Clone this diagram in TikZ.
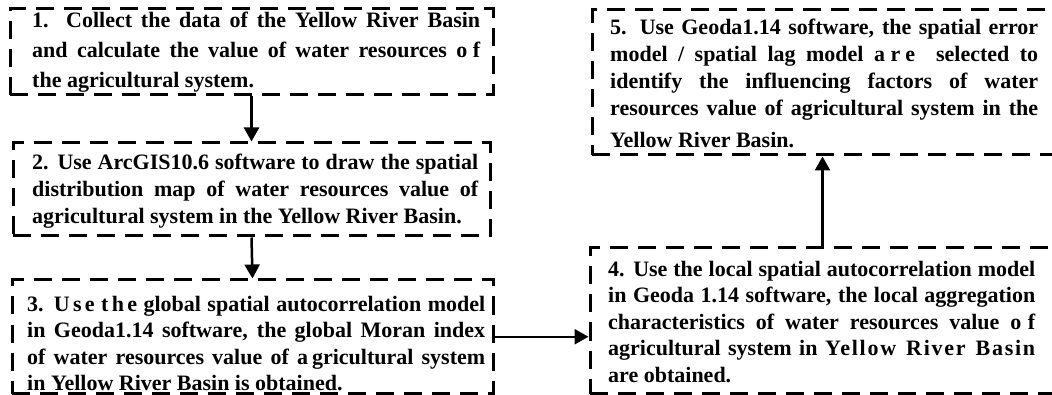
\documentclass[tikz,border=0pt]{standalone}
\usepackage{fontspec}
\setmainfont{Liberation Serif}
\usetikzlibrary{arrows.meta,fit}
\newcommand{\lsp}[2]{{\addfontfeature{LetterSpace=#1}#2}}
\begin{document}
\begin{tikzpicture}[x=1pt,y=-1pt,
  box/.style={draw, line width=3pt, dash pattern=on 18pt off 10pt, inner sep=0pt, rectangle},
  txt/.style={anchor=north west, inner sep=0pt, align=justify, font=\bfseries\fontsize{22}{27}\selectfont},
  arr/.style={line width=2.5pt, -{Triangle[width=15pt,length=14pt]}}]
\useasboundingbox (0,0) rectangle (1052,395);
\clip (0,0) rectangle (1052,395);
\node[box, fit={(10,9) (493,95)}] (b1) {};
\node[box, fit={(13,143) (490,236)}] (b2) {};
\node[box, fit={(12,280) (493,393.5)}] (b3) {};
\node[box, fit={(590,248) (1054,393.5)}] (b4) {};
\node[box, fit={(592,10) (1054,155)}] (b5) {};
\node[txt, text width=448pt, font=\bfseries\fontsize{22}{30}\selectfont] (t1) at (32,12)
  {1. Collect the data of the Yellow River Basin\linebreak and calculate the value of water resources \lsp{25}{of}\linebreak the agricultural system.};
\node[txt, text width=446pt] (t2) at (32,154)
  {\parfillskip=0pt 2. Use ArcGIS10.6 software to draw the spatial\linebreak distribution map of water resources value of\linebreak agricultural system in the Yellow River Basin.};
\node[txt, text width=458pt, font=\bfseries\fontsize{22}{26.5}\selectfont] (t3) at (27,296)
  {3. \lsp{15}{Use}\ \lsp{15}{the} global spatial autocorrelation model\linebreak in Geoda1.14 software, the global Moran index\linebreak of water resources value of a\kern4pt gricultural system\linebreak in Yellow River Basin is obtained.};
\node[txt, text width=427pt, font=\bfseries\fontsize{22}{26.5}\selectfont] (t4) at (608,261)
  {4. Use the local spatial autocorrelation model\linebreak in Geoda 1.14 software, the local aggregation\linebreak characteristics of water resources value \lsp{30}{of}\linebreak agricultural system in \lsp{8}{Yellow River Basin}\linebreak are obtained.};
\node[txt, text width=428pt] (t5) at (610,19)
  {5. Use Geoda1.14 software, the spatial error\linebreak model / spatial lag model \lsp{25}{are}\ \ selected to\linebreak identify the influencing factors of water\linebreak resources value of agricultural system in the\vadjust{\vskip5pt}\linebreak Yellow River Basin.};
\draw[arr] (b1.south) -- (b2.north);
\draw[arr] (b2.south) -- (b3.north);
\draw[arr] (b3.east) -- (b3.east -| b4.west);
\draw[arr] ([xshift=234pt]b4.north west) -- ([xshift=232pt]b5.south west);
\end{tikzpicture}
\end{document}
